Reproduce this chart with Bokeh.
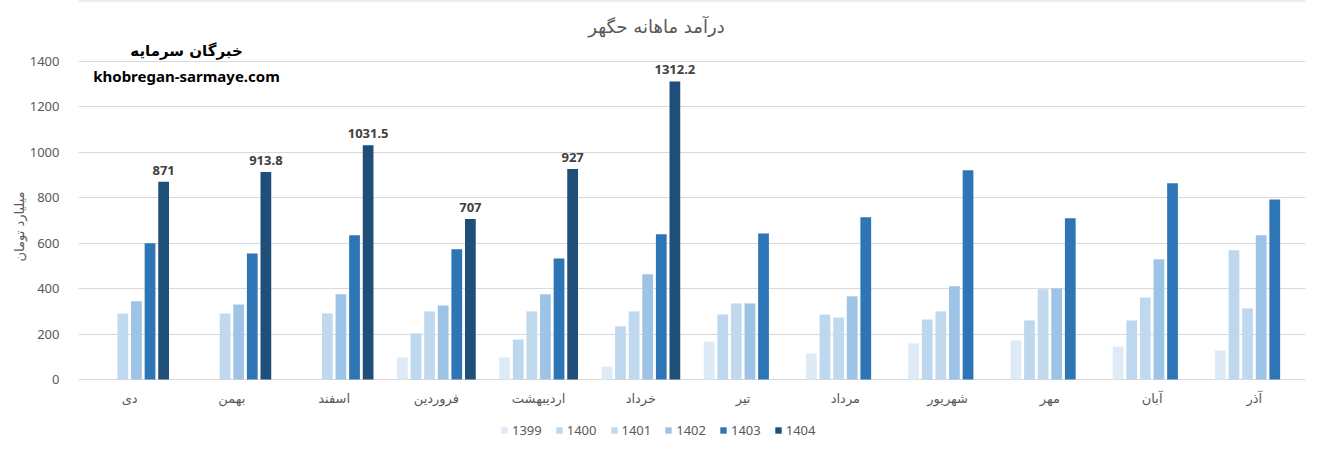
from bokeh.plotting import figure
from bokeh.models import (ColumnDataSource, FactorRange, FixedTicker, Label,
                          Legend, LegendItem, Range1d, Span)
from bokeh.transform import dodge
from bokeh.core.properties import value
from bokeh.embed import file_html
from bokeh.resources import INLINE

months = ["دی", "بهمن", "اسفند", "فروردین", "اردیبهشت", "خرداد",
          "تیر", "مرداد", "شهریور", "مهر", "آبان", "آذر"]
years = ["1399", "1400", "1401", "1402", "1403", "1404"]

y1399 = [None, None, None, 97, 97, 57, 167, 115, 159, 172, 145, 128]
y1400 = [None, None, None, 203, 176, 234, 286, 286, 264, 260, 260, 569]
y1401 = [291, 291, 291, 300, 300, 300, 335, 273, 300, 397, 361, 313]
y1402 = [344, 330, 375, 326, 375, 463, 335, 366, 410, 401, 529, 635]
y1403 = [600, 555, 635, 573, 533, 639, 643, 714, 921, 710, 864, 793]
y1404 = [871, 913.8, 1031.5, 707, 927, 1312.2, None, None, None, None, None, None]

series = [y1399, y1400, y1401, y1402, y1403, y1404]
colors = ["#DEEBF7", "#BDD7EE", "#C0D9EF", "#9DC3E6", "#2E75B6", "#1F4E79"]

title_text = "درآمد ماهانه حگهر"
wm_fa = "خبرگان سرمایه"
wm_en = "khobregan-sarmaye.com"
y_label = "میلیارد تومان"
y_ticks = [0, 200, 400, 600, 800, 1000, 1200, 1400]

GRAY = "#595959"
W, H = 1317, 452
FL, FR = 78, 1305                   # frame left / right (px)
ZERO_PX, TOP_PX = 379, 61           # pixel rows of the 0 and top ticks
slot = 0.133
bw = 0.105
ppu = (ZERO_PX - TOP_PX) / y_ticks[-1]
y_start = -(H - ZERO_PX) / ppu
y_end = ZERO_PX / ppu

p = figure(x_range=FactorRange(*months), y_range=Range1d(y_start, y_end),
           width=W, height=H, output_backend="svg", x_axis_location=None,
           toolbar_location=None, min_border_left=FL, min_border_right=W - FR,
           min_border_top=0, min_border_bottom=0)
p.outline_line_color = None
p.xgrid.grid_line_color = None
p.ygrid.grid_line_color = "#D9D9D9"
p.ygrid.grid_line_width = 1
p.ygrid.ticker = FixedTicker(ticks=y_ticks)

# thin chart border line along the top edge
p.add_layout(Span(location=y_end, dimension="width", line_color="#D9D9D9",
                  line_width=2))

p.yaxis.ticker = FixedTicker(ticks=y_ticks)
p.yaxis.axis_line_color = None
p.yaxis.major_tick_line_color = None
p.yaxis.minor_tick_line_color = None
p.yaxis.major_label_text_font = "Noto Sans"
p.yaxis.major_label_text_font_size = "13px"
p.yaxis.major_label_text_color = GRAY
p.yaxis.major_label_standoff = 13
p.yaxis.axis_label = y_label
p.yaxis.axis_label_text_font = "DejaVu Sans"
p.yaxis.axis_label_text_font_style = "normal"
p.yaxis.axis_label_text_font_size = "13px"
p.yaxis.axis_label_text_color = GRAY
p.yaxis.axis_label_standoff = 0

# month (category) labels under the zero line
msrc = ColumnDataSource(dict(month=months, y=[0] * len(months)))
p.text(x="month", y="y", text="month", source=msrc, text_align="center",
       text_baseline="middle", y_offset=19, text_font=value("DejaVu Sans"),
       text_font_size="13px", text_color=GRAY)

items = []
for i, (yr, vals, col) in enumerate(zip(years, series, colors)):
    xs = [m for m, v in zip(months, vals) if v is not None]
    vs = [v for v in vals if v is not None]
    src = ColumnDataSource(dict(month=xs, val=vs, lab=[f"{v:g}" for v in vs]))
    off = (i - 2.5) * slot
    r = p.vbar(x=dodge("month", off, range=p.x_range), top="val", width=bw,
               source=src, fill_color=col, line_color=None)
    items.append(LegendItem(label=yr, renderers=[r]))
    if yr == "1404":
        p.text(x=dodge("month", off, range=p.x_range), y="val", text="lab",
               source=src, text_align="center", text_baseline="bottom",
               y_offset=-7, text_font=value("Noto Sans"),
               text_font_style="bold", text_font_size="13px",
               text_color="#404040")

legend = Legend(items=items, orientation="horizontal", location=(422, 13),
                glyph_width=8, glyph_height=8, label_standoff=4, spacing=13,
                padding=0, margin=0, border_line_color=None,
                background_fill_alpha=0, label_text_font="Noto Sans",
                label_text_font_size="13px", label_text_color=GRAY,
                label_height=16)
p.add_layout(legend, "center")

def lab(text, cx, cy, font, size, color, style="normal"):
    return Label(x=cx - FL, y=H - cy, x_units="screen", y_units="screen",
                 text=text, text_align="center", text_baseline="middle",
                 text_font=font, text_font_style=style,
                 text_font_size=size, text_color=color)

p.add_layout(lab(title_text, 656, 26, "DejaVu Sans", "18px", GRAY))
p.add_layout(lab(wm_fa, 186, 50, "DejaVu Sans", "15px", "#000000", "bold"))
p.add_layout(lab(wm_en, 186, 75, "Noto Sans", "15px", "#000000", "bold"))

open("out.html", "w").write(file_html(p, INLINE))
